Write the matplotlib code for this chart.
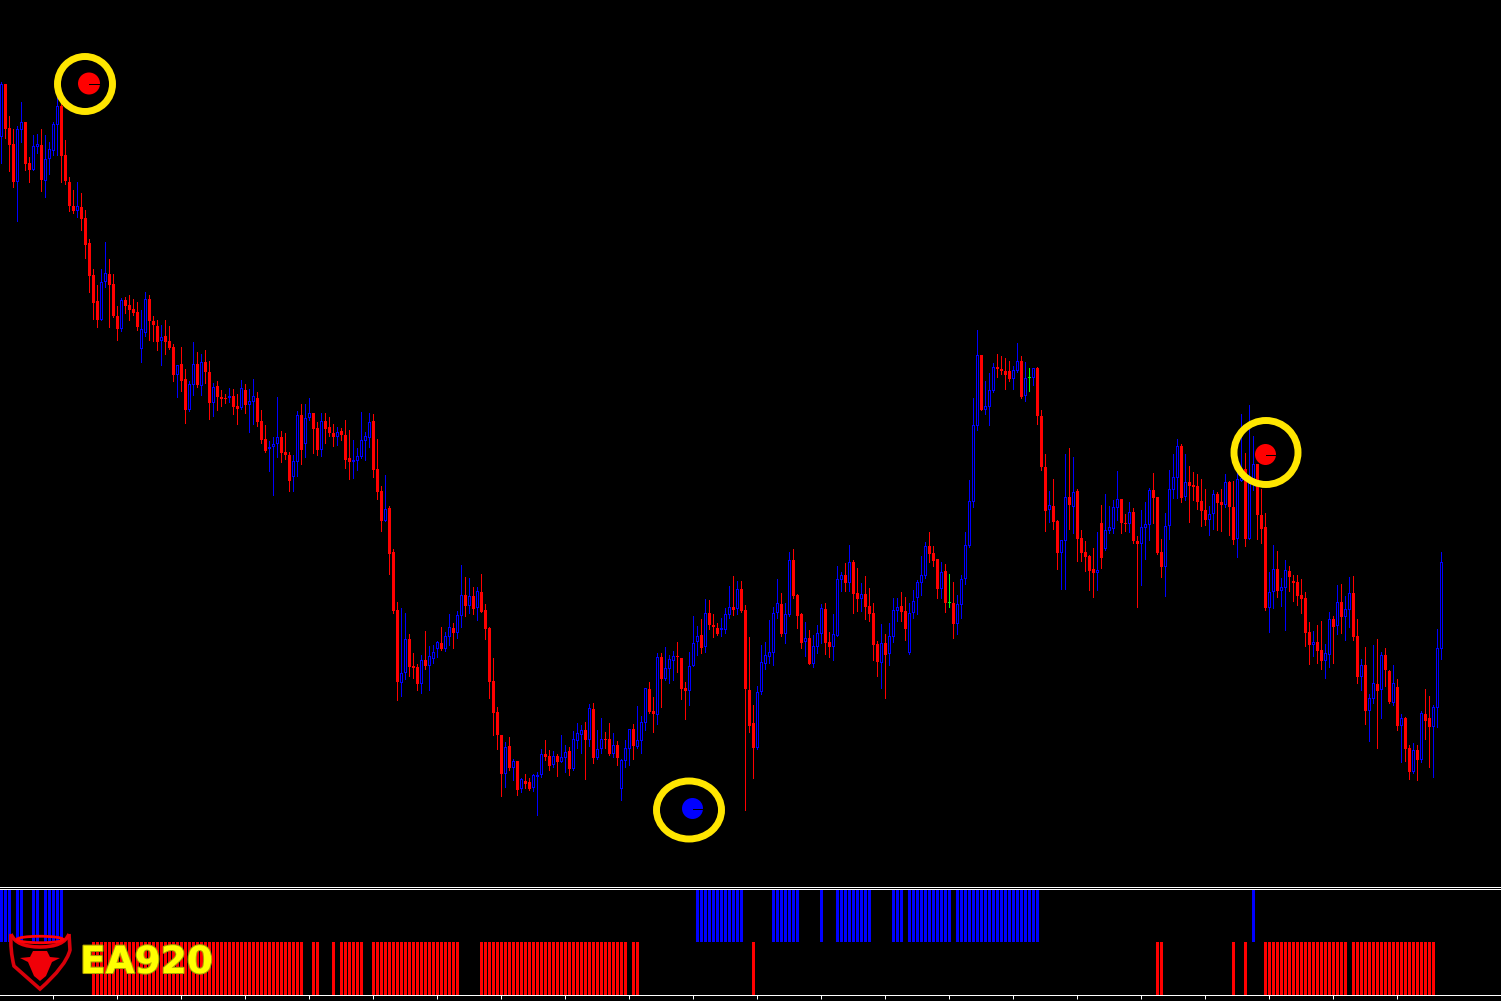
import matplotlib
matplotlib.use("Agg")
import matplotlib.pyplot as plt
from matplotlib.patches import Ellipse, Polygon, PathPatch
from matplotlib.path import Path
import matplotlib.patheffects as pe

# Price levels are on the chart's inverted level scale (larger = lower on the chart)
body_top = [
84,84,128,144,129,122,122,163,146,144, 145,159,149,124,106,106,155,182,206,206,
207,218,243,275,301,282,273,274,284,316, 300,300,305,309,312,329,299,299,321,326,
337,336,341,347,365,364,379,384,364,364, 362,362,372,387,386,397,398,396,396,406,
388,390,401,396,398,421,439,447,444,437, 437,452,455,461,415,415,418,413,413,428,
421,421,427,433,432,431,435,458,460,456, 440,436,422,421,469,491,509,508,552,610,
673,639,639,666,667,660,660,656,652,642, 643,636,627,628,615,595,595,596,596,591,
592,610,628,681,712,735,747,746,761,761, 779,781,782,775,775,754,754,756,756,756,
757,752,751,739,733,730,730,708,709,749, 739,739,739,745,745,760,748,729,729,740,
722,688,689,711,657,657,668,659,656,656, 658,688,666,643,636,635,613,613,625,628,
628,614,607,607,589,589,610,690,723,692, 662,655,652,613,603,604,614,560,560,595,
614,638,638,646,633,608,609,642,634,579, 575,575,562,562,593,594,594,606,613,644,
643,643,636,610,607,606,611,613,601,582, 575,546,546,553,559,572,571,602,603,604,
579,545,501,425,355,355,406,390,367,367, 369,371,371,370,361,361,378,377,368,368,
416,467,505,506,521,540,497,497,492,491, 538,552,556,569,570,523,530,527,507,499,
499,523,512,512,541,527,524,490,490,497, 552,526,489,477,446,446,482,482,485,486,
501,510,514,494,494,502,482,482,507,479, 478,469,483,464,464,515,527,592,569,569,
587,570,571,581,582,595,598,632,642,642, 650,653,619,619,602,602,609,593,593,636,
665,665,698,683,684,655,655,671,683,687, 718,718,748,750,750,713,714,718,707,648,562]

body_bottom = [
137,129,145,182,182,130,164,170,170,147, 180,181,159,151,125,156,181,206,211,211,
219,245,276,303,320,320,282,285,316,329, 329,306,310,313,327,349,333,321,325,342,
341,342,348,375,375,381,410,410,385,385, 386,372,403,403,397,399,399,398,407,409,
408,405,405,402,422,440,451,449,447,444, 453,455,481,477,462,450,444,418,429,450,
450,429,433,437,437,435,460,462,462,461, 457,441,438,470,492,521,521,554,611,682,
683,673,667,668,684,684,666,666,659,649, 649,649,637,633,633,616,606,606,609,608,
612,629,682,713,735,774,774,768,768,790, 789,784,789,788,777,775,757,766,765,762,
762,758,769,769,741,735,740,740,758,758, 749,740,754,754,758,789,761,749,746,747,
741,723,712,714,715,679,679,669,661,657, 689,691,691,666,642,648,647,625,627,634,
630,630,615,610,609,611,689,726,748,748, 692,664,657,653,613,634,634,615,596,616,
643,642,664,664,647,634,643,647,647,636, 580,583,583,594,599,599,607,614,645,662,
663,655,654,637,611,612,629,653,613,598, 583,576,554,561,589,589,603,603,624,624,
605,579,546,502,426,410,410,407,391,369, 371,375,379,379,371,397,396,378,378,416,
467,511,510,522,553,553,541,505,507,539, 553,557,571,573,573,558,549,531,529,508,
523,524,524,541,544,544,528,525,498,553, 567,567,526,490,478,498,497,486,487,502,
511,520,520,514,503,505,505,507,540,539, 481,539,539,484,515,529,608,608,592,591,
591,588,577,583,596,599,633,645,645,651, 661,661,655,627,626,617,617,610,637,677,
677,711,711,699,691,690,670,702,703,726, 726,749,772,772,760,760,721,727,727,708,649]

wick_top = [
82,84,116,129,126,102,122,157,135,134, 129,135,142,122,97,97,140,177,190,182,
193,210,239,269,285,269,242,259,274,306, 298,297,295,299,302,310,292,295,316,320,
325,320,326,344,365,347,369,381,342,352, 354,350,361,383,381,390,394,388,389,394,
380,384,389,379,392,410,425,441,437,397, 431,433,452,455,411,404,404,398,413,422,
413,413,417,424,427,428,420,430,440,448, 412,432,413,414,439,486,475,506,549,602,
608,613,634,653,664,655,631,646,645,641, 627,632,614,623,611,565,577,578,587,587,
574,604,627,658,707,735,742,737,759,761, 778,774,778,774,772,749,740,750,751,754,
735,745,747,731,723,725,722,704,703,730, 718,732,723,733,741,759,740,729,724,706,
716,688,682,697,653,653,647,655,651,642, 658,682,652,616,626,619,599,600,614,623,
618,608,586,576,581,581,605,637,705,686, 645,642,620,607,579,593,603,552,549,594,
613,622,630,635,625,604,603,632,614,566, 572,563,545,560,568,583,576,588,603,641,
624,634,623,598,598,592,597,603,590,580, 556,542,532,546,559,562,564,574,582,595,
575,532,480,398,330,355,381,373,363,354, 356,358,361,366,343,356,362,368,368,367,
410,454,491,479,520,540,454,448,457,489, 530,541,555,548,532,505,494,506,500,471,
499,514,502,508,536,510,502,488,473,497, 539,513,470,454,439,444,454,466,472,474,
479,489,506,490,492,489,474,481,481,466, 414,453,405,436,464,489,513,572,545,551,
578,560,566,575,575,579,592,622,631,625, 621,644,612,616,585,584,596,577,576,619,
659,647,694,645,639,652,648,670,665,679, 714,717,745,743,745,711,689,696,705,629,552]

wick_bottom = [
163,138,171,187,221,142,170,182,170,153, 191,197,174,155,155,182,184,211,213,217,
230,258,292,319,327,320,287,327,317,340, 331,313,320,315,330,362,336,340,341,350,
365,354,349,381,397,391,423,411,395,387, 395,383,419,416,410,406,403,402,414,424,
409,413,432,424,426,443,452,471,495,457, 462,459,491,491,476,464,457,420,453,455,
456,443,436,446,445,440,468,479,478,470, 458,460,447,477,499,531,521,574,613,700,
696,679,676,678,690,693,669,690,663,657, 650,651,645,648,638,627,616,613,614,620,
612,639,698,735,749,796,787,770,780,795, 792,788,790,791,815,777,760,770,767,776,
762,772,775,770,748,753,779,746,763,759, 753,748,755,757,765,800,767,765,759,748,
753,730,713,732,724,707,680,683,680,672, 699,719,705,666,655,653,652,629,637,635,
636,633,618,615,614,612,810,732,778,749, 694,669,663,665,618,636,643,616,598,628,
648,656,664,667,653,643,654,657,660,636, 591,591,591,613,611,611,619,621,660,676,
688,698,665,642,621,621,640,654,618,614, 595,578,562,566,598,598,612,607,638,634,
618,584,547,507,430,410,414,425,392,377, 374,389,381,389,372,398,401,391,385,424,
470,531,522,529,569,589,589,529,533,561, 561,571,590,597,590,568,550,533,533,520,
533,531,532,543,607,585,559,540,523,554, 577,596,539,498,498,502,500,522,500,509,
526,525,535,529,530,531,507,535,544,557, 481,546,539,490,539,543,610,632,608,597,
606,630,591,601,605,613,646,664,656,663, 669,678,667,663,634,633,640,627,640,683,
690,724,741,703,748,718,686,703,705,730, 762,761,779,773,780,762,739,767,777,727,659]

# u = rising (blue, hollow), d = falling (red, solid), g = doji (green)
direction_rows = [
    "u d d d u u d d u u", "d u u u u d d d d u", "d d d d d u u d d d",
    "u d d d d u u d d d", "u d d d u d d u u d", "u d d u d d d u d d",
    "u d u u d d d u u u", "d d d u u d u u d d", "u d d d u d d d u u",
    "u u u d d d u d d d", "u u d d d u d u u u", "d u u d u u d u d u",
    "d d d d d d u d u d", "u d d u u u d d u d", "u u d u u u d u d u",
    "u d d u d u u u d u", "u u d d u d u u u d", "d d u u u d u d d d",
    "u u u d u d d d d u", "u u u u u d u u d d", "d u d u u u d d u u",
    "u d u d d u d d d d", "u d u u u d d u u u", "u u d d d u d g d u",
    "u u u u u d u u u d", "d d d u u d u g u d", "d d u d d u u d u d",
    "d d d d u d u u u u", "d d u d d u u u d d", "d u u u u d u d d d",
    "d d u u d d u d d u", "u d u u d d d u u d", "u u d d d d d d u d",
    "d u u d u d u u d d", "u d u u d u d d u d", "u d d u d u d d u u u",
]
direction = "".join(r.replace(" ", "") for r in direction_rows)

# Lower panel: runs of candle indices carrying a signal bar
blue_runs = [(0, 2), (4, 5), (8, 9), (11, 15), (174, 185), (193, 199), (205, 205),
             (209, 217), (223, 225), (227, 237), (239, 259), (313, 313)]
red_runs = [(23, 75), (78, 79), (83, 83), (85, 90), (93, 114), (120, 156), (158, 159),
            (188, 188), (289, 290), (308, 308), (311, 311), (316, 336), (338, 358)]
panel_ticks = list(range(13, 350, 16))

# Highlight markers: ring centre x/y, ring radii, dot x/y, dot radius, dot colour
ring_x = [85, 689, 1266]
ring_y = [84, 810, 452.5]
ring_rx = [27.5, 32.5, 32]
ring_ry = [27.5, 29, 32]
dot_x = [89, 692.5, 1265.5]
dot_y = [83.5, 808.5, 454.5]
dot_r = [11, 10.5, 10.5]
dot_colors = ["#ff0000", "#0000ff", "#ff0000"]

BLUE, RED, GREEN = "#0000ff", "#ff0000", "#00ff00"
W, H = 1501, 1001
fig = plt.figure(figsize=(W / 100, H / 100), dpi=100, facecolor="black")

x_limits = (-1.4 / 4, (W - 1.4) / 4)

ax = fig.add_axes([0, (H - 887) / H, 1, 887 / H], facecolor="black")
ax.set_xlim(*x_limits)
ax.set_ylim(887, 0)
for side in ("top", "left", "right"):
    ax.spines[side].set_visible(False)
ax.spines["bottom"].set_color("white")
ax.spines["bottom"].set_linewidth(0.72)
ax.set_xticks([])
ax.set_yticks([])

colors = {"u": BLUE, "d": RED, "g": GREEN}
xs = list(range(len(direction)))
ax.vlines(xs, wick_top, wick_bottom, colors=[colors[d] for d in direction],
          linewidth=0.72, antialiased=False, zorder=1)

for i, d in enumerate(direction):
    height = body_bottom[i] - body_top[i]
    ax.bar(i, height, bottom=body_top[i], width=0.75, color=colors[d],
           linewidth=0, antialiased=False, zorder=2)
    if d == "u" and height > 2:
        ax.bar(i, height - 2, bottom=body_top[i] + 1, width=0.25, color="black",
               linewidth=0, antialiased=False, zorder=3)

panel = fig.add_axes([0, (H - 995) / H, 1, 106 / H], facecolor="black")
panel.set_xlim(*x_limits)
panel.set_ylim(-1, 1)
for side in ("left", "right"):
    panel.spines[side].set_visible(False)
for side in ("top", "bottom"):
    panel.spines[side].set_color("white")
    panel.spines[side].set_linewidth(0.72)
panel.set_yticks([])
panel.set_xticks(panel_ticks)
panel.set_xticklabels([])
panel.tick_params(axis="x", colors="white", length=2.9, width=0.72)

for a, b in blue_runs:
    idx = list(range(a, b + 1))
    panel.bar(idx, [1] * len(idx), width=0.75, color=BLUE, linewidth=0, antialiased=False)
for a, b in red_runs:
    idx = list(range(a, b + 1))
    panel.bar(idx, [-1] * len(idx), width=0.75, color=RED, linewidth=0, antialiased=False)

# Overlay in figure pixels for the highlight rings and the logo
ov = fig.add_axes([0, 0, 1, 1], facecolor="none")
ov.set_xlim(0, W)
ov.set_ylim(H, 0)
ov.axis("off")

for x, y, rx, ry in zip(ring_x, ring_y, ring_rx, ring_ry):
    ov.add_patch(Ellipse((x, y), 2 * rx, 2 * ry, facecolor="none",
                         edgecolor="#ffe600", linewidth=5.0))
for x, y, r, c in zip(dot_x, dot_y, dot_r, dot_colors):
    ov.add_patch(Ellipse((x, y), 2 * r, 2 * r, facecolor=c, edgecolor="none"))
    ov.plot([x, x + r], [y + 0.5, y + 0.5], color="black", linewidth=0.72,
            antialiased=False)

# Logo: shield outline, horn arc and bull head
shield = Path([(11, 934), (10, 950), (14, 966), (40, 989), (66, 966), (70, 950), (69, 934)],
              [Path.MOVETO, Path.CURVE3, Path.CURVE3, Path.LINETO, Path.CURVE3, Path.CURVE3, Path.LINETO])
ov.add_patch(PathPatch(shield, facecolor="none", edgecolor="#d8000a", linewidth=2.6))
horns = Path([(11, 934), (16, 947), (40, 947), (64, 947), (69, 934)],
             [Path.MOVETO, Path.CURVE3, Path.CURVE3, Path.CURVE3, Path.CURVE3])
ov.add_patch(PathPatch(horns, facecolor="none", edgecolor="#e80008", linewidth=2.6))
ov.add_patch(Ellipse((40, 939.5), 46, 6.5, facecolor="none", edgecolor="#ff0008", linewidth=2.0))
ov.add_patch(Polygon([(33, 951), (47, 951), (50, 957), (60, 958), (52, 962), (46, 976),
                      (40, 981), (34, 976), (28, 962), (20, 958), (30, 957)],
                     closed=True, facecolor="#f00008", edgecolor="none"))

ov.text(80, 963, "EA920", color="#ffff00", fontsize=27, fontweight="bold",
        family="DejaVu Sans", ha="left", va="center",
        path_effects=[pe.withStroke(linewidth=1.5, foreground="#b0a000")])

fig.savefig("out.png", dpi=100, facecolor="black")
